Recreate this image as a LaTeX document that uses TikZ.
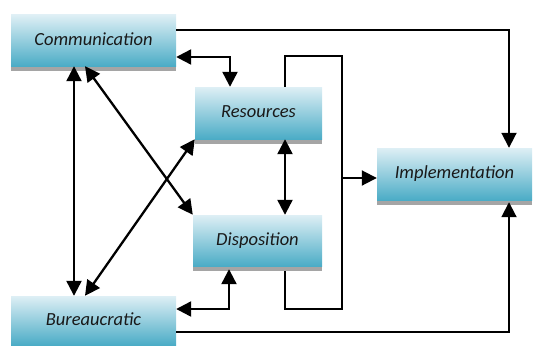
\documentclass[tikz,border=0pt]{standalone}
\usepackage{fontspec}
\setmainfont{Carlito}
\usetikzlibrary{arrows.meta,shadows}
\definecolor{boxtop}{RGB}{222,239,245}
\definecolor{boxbot}{RGB}{75,172,198}
\definecolor{barcol}{RGB}{165,165,165}
\tikzset{
  box/.style={rectangle, inner sep=0pt, top color=boxtop, bottom color=boxbot,
    general shadow={shadow yshift=-5pt, fill=barcol},
    font=\fontsize{18.5}{22}\selectfont\itshape, text=black!90},
  biarr/.style={line width=2.3pt, {Triangle[length=15pt,width=15pt]}-{Triangle[length=15pt,width=15pt]}},
  arr/.style={line width=1.9pt, -{Triangle[length=15pt,width=15pt]}},
  plain/.style={line width=1.7pt}
}
\begin{document}
\begin{tikzpicture}[x=1pt,y=-1pt]
\useasboundingbox (0,0) rectangle (534,345);
\node[box, minimum width=165pt, minimum height=51pt] (comm) at (93.5,40.5) {\raisebox{3pt}{Communication}};
\node[box, minimum width=127pt, minimum height=52pt] (res) at (258.5,113) {\raisebox{3pt}{Resources}};
\node[box, minimum width=129pt, minimum height=51pt] (dis) at (257.5,240.5) {\raisebox{3pt}{Disposition}};
\node[box, minimum width=165pt, minimum height=49pt] (bur) at (93.5,320.5) {\raisebox{3pt}{Bureaucratic}};
\node[box, minimum width=155pt, minimum height=52pt] (impl) at (454.5,174) {\raisebox{3pt}{Implementation}};
\coordinate (br1) at (342,56);
\coordinate (brm) at (342,178);
\coordinate (br2) at (342,309);
% Communication -> Implementation
\draw[arr] ([yshift=10.5pt]comm.east) -| ([xshift=54.5pt]impl.north);
% Communication <-> Resources
\draw[biarr] ([yshift=-16.5pt]comm.east) -| ([xshift=-28.5pt]res.north);
% Communication <-> Bureaucratic
\draw[biarr] ([xshift=-19.5pt]comm.south) -- ([xshift=-19.5pt]bur.north);
% Communication <-> Disposition
\draw[biarr] ([xshift=-8.5pt]comm.south) -- (dis.north west);
% Resources <-> Bureaucratic
\draw[biarr] (res.south west) -- ([xshift=-8.5pt]bur.north);
% Resources <-> Disposition
\draw[biarr] ([xshift=26.5pt]res.south) -- ([xshift=27.5pt]dis.north);
% bracket
\draw[plain] ([xshift=26.5pt]res.north) |- (br1) -- (br2) -| ([xshift=27.5pt,yshift=-5pt]dis.south);
\draw[arr] (brm) -- (impl.west |- brm);
% Bureaucratic <-> Disposition
\draw[biarr] ([yshift=11.5pt]bur.east) -| ([xshift=-28.5pt,yshift=-3pt]dis.south);
% Bureaucratic -> Implementation
\draw[arr] ([yshift=-11.5pt]bur.east) -| ([xshift=54.5pt,yshift=-2pt]impl.south);
\end{tikzpicture}
\end{document}
